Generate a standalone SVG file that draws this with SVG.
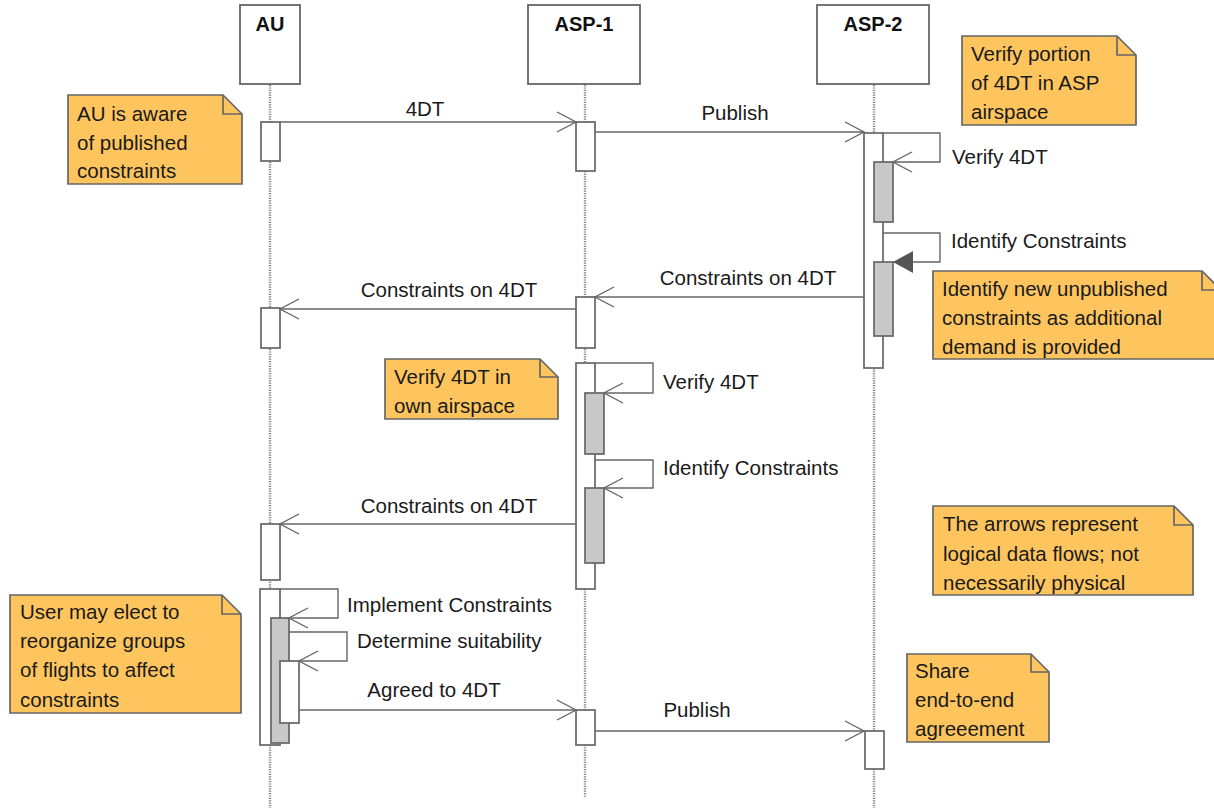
<svg xmlns="http://www.w3.org/2000/svg" width="1214" height="809" viewBox="0 0 1214 809">
<style>
.head{fill:#fff;stroke:#666;stroke-width:1.8}
.htxt{font-family:"Liberation Sans",Arial,sans-serif;font-size:20px;font-weight:bold;fill:#111;text-anchor:middle}
.life{stroke:#888;stroke-width:2.4;stroke-dasharray:1.2 1.2;fill:none}
.act{fill:#fff;stroke:#666;stroke-width:1.7}
.actg{fill:#c8c8c8;stroke:#666;stroke-width:1.7}
.note{fill:#fec55f;stroke:#666;stroke-width:1.7}
.fold{fill:none;stroke:#666;stroke-width:1.7}
.ntxt{font-family:"Liberation Sans",Arial,sans-serif;font-size:20.5px;fill:#1a1a1a}
.msg{fill:none;stroke:#666;stroke-width:1.4}
.lbl{font-family:"Liberation Sans",Arial,sans-serif;font-size:20.5px;fill:#1a1a1a}
</style>
<defs>
<marker id="open" markerUnits="userSpaceOnUse" markerWidth="22" markerHeight="22" viewBox="0 0 22 22" refX="20" refY="11" orient="auto">
<path d="M1,1 L20,11 L1,21" fill="none" stroke="#666" stroke-width="1.4"/>
</marker>
<marker id="filled" markerUnits="userSpaceOnUse" markerWidth="22" markerHeight="22" viewBox="0 0 22 22" refX="20" refY="11" orient="auto">
<path d="M0,0 L20,11 L0,22 Z" fill="#555" stroke="none"/>
</marker>
</defs>
<rect width="1214" height="809" fill="#fff"/>

<g id="lifelines">
<line class="life" x1="270" y1="85" x2="270" y2="808"/>
<line class="life" x1="585" y1="85" x2="585" y2="798"/>
<line class="life" x1="874" y1="85" x2="874" y2="808"/>
</g>

<g id="AU">
<rect class="head" x="240" y="5" width="60" height="79"/>
<text class="htxt" x="270" y="31">AU</text>
<rect class="act" x="261" y="122" width="19" height="39"/>
<rect class="act" x="261" y="308" width="19" height="40"/>
<rect class="act" x="261" y="524" width="19" height="56"/>
<rect class="act" x="260" y="589" width="20" height="156"/>
<rect class="actg" x="271" y="618" width="18" height="125"/>
<rect class="act" x="280" y="661" width="19" height="62"/>
</g>

<g id="ASP-1">
<rect class="head" x="528" y="5" width="112" height="79"/>
<text class="htxt" x="584" y="31">ASP-1</text>
<rect class="act" x="576" y="122" width="19" height="49"/>
<rect class="act" x="576" y="297" width="19" height="51"/>
<rect class="act" x="576" y="363" width="19" height="226"/>
<rect class="actg" x="585" y="393" width="19" height="61"/>
<rect class="actg" x="585" y="488" width="19" height="75"/>
<rect class="act" x="576" y="710" width="19" height="35"/>
</g>

<g id="ASP-2">
<rect class="head" x="817" y="5" width="112" height="79"/>
<text class="htxt" x="873" y="31">ASP-2</text>
<rect class="act" x="864" y="133" width="19" height="235"/>
<rect class="actg" x="874" y="162" width="19" height="60"/>
<rect class="actg" x="874" y="262" width="19" height="74"/>
<rect class="act" x="865" y="731" width="19" height="38"/>
</g>

<g id="connectors">
<path class="msg" d="M280,122 H576" marker-end="url(#open)"/>
<text class="lbl" x="425" y="116" text-anchor="middle">4DT</text>
<path class="msg" d="M595,132 H864" marker-end="url(#open)"/>
<text class="lbl" x="735" y="120" text-anchor="middle">Publish</text>
<path class="msg" d="M883,133 H940 V162 H893" marker-end="url(#open)"/>
<text class="lbl" x="952" y="164">Verify 4DT</text>
<path class="msg" d="M883,233 H940 V262 H893" marker-end="url(#filled)"/>
<text class="lbl" x="951" y="248">Identify Constraints</text>
<path class="msg" d="M864,297 H595" marker-end="url(#open)"/>
<text class="lbl" x="748" y="285" text-anchor="middle">Constraints on 4DT</text>
<path class="msg" d="M576,309 H280" marker-end="url(#open)"/>
<text class="lbl" x="449" y="297" text-anchor="middle">Constraints on 4DT</text>
<path class="msg" d="M595,363 H653 V393 H604" marker-end="url(#open)"/>
<text class="lbl" x="663" y="389">Verify 4DT</text>
<path class="msg" d="M595,460 H653 V488 H604" marker-end="url(#open)"/>
<text class="lbl" x="663" y="475">Identify Constraints</text>
<path class="msg" d="M576,524 H280" marker-end="url(#open)"/>
<text class="lbl" x="449" y="513" text-anchor="middle">Constraints on 4DT</text>
<path class="msg" d="M280,589 H338 V618 H289" marker-end="url(#open)"/>
<text class="lbl" x="347" y="612">Implement Constraints</text>
<path class="msg" d="M289,632 H347 V661 H299" marker-end="url(#open)"/>
<text class="lbl" x="357" y="648">Determine suitability</text>
<path class="msg" d="M299,710 H576" marker-end="url(#open)"/>
<text class="lbl" x="434" y="697" text-anchor="middle">Agreed to 4DT</text>
<path class="msg" d="M595,731 H864" marker-end="url(#open)"/>
<text class="lbl" x="697" y="717" text-anchor="middle">Publish</text>
</g>

<g id="note-au-aware">
<path class="note" d="M68,95 H223 L242,114 V184 H68 Z"/>
<path class="fold" d="M223,95 V114 H242"/>
<text class="ntxt" x="77" y="121">AU is aware</text>
<text class="ntxt" x="77" y="150">of published</text>
<text class="ntxt" x="77" y="178">constraints</text>
</g>

<g id="note-verify-portion">
<path class="note" d="M962,36 H1117 L1136,55 V125 H962 Z"/>
<path class="fold" d="M1117,36 V55 H1136"/>
<text class="ntxt" x="971" y="61">Verify portion</text>
<text class="ntxt" x="971" y="90">of 4DT in ASP</text>
<text class="ntxt" x="971" y="119">airspace</text>
</g>

<g id="note-identify-new">
<path class="note" d="M933,271 H1202 L1221,290 V359 H933 Z"/>
<path class="fold" d="M1202,271 V290 H1221"/>
<text class="ntxt" x="942" y="296">Identify new unpublished</text>
<text class="ntxt" x="942" y="325">constraints as additional</text>
<text class="ntxt" x="942" y="354">demand is provided</text>
</g>

<g id="note-verify-own">
<path class="note" d="M385,359 H540 L558,377 V419 H385 Z"/>
<path class="fold" d="M540,359 V377 H558"/>
<text class="ntxt" x="394" y="384">Verify 4DT in</text>
<text class="ntxt" x="394" y="413">own airspace</text>
</g>

<g id="note-arrows">
<path class="note" d="M933,506 H1174 L1193,525 V595 H933 Z"/>
<path class="fold" d="M1174,506 V525 H1193"/>
<text class="ntxt" x="943" y="531">The arrows represent</text>
<text class="ntxt" x="943" y="561">logical data flows; not</text>
<text class="ntxt" x="943" y="590">necessarily physical</text>
</g>

<g id="note-user">
<path class="note" d="M10,595 H222 L241,614 V713 H10 Z"/>
<path class="fold" d="M222,595 V614 H241"/>
<text class="ntxt" x="20" y="619">User may elect to</text>
<text class="ntxt" x="20" y="648">reorganize groups</text>
<text class="ntxt" x="20" y="677">of flights to affect</text>
<text class="ntxt" x="20" y="707">constraints</text>
</g>

<g id="note-share">
<path class="note" d="M907,654 H1031 L1049,672 V742 H907 Z"/>
<path class="fold" d="M1031,654 V672 H1049"/>
<text class="ntxt" x="915" y="678">Share</text>
<text class="ntxt" x="915" y="707">end-to-end</text>
<text class="ntxt" x="915" y="736">agreeement</text>
</g>
</svg>
